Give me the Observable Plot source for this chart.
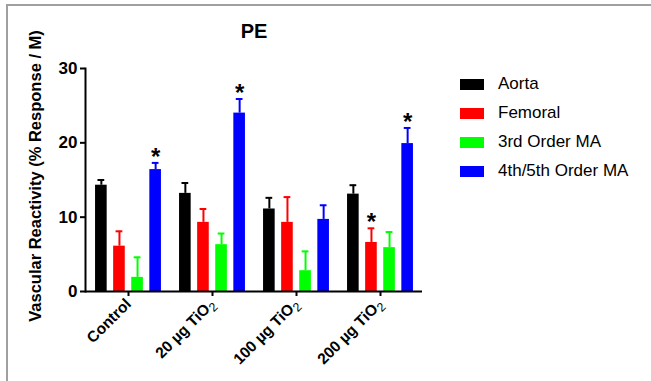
<!DOCTYPE html>
<html>
<head>
<meta charset="utf-8">
<script src="https://cdn.jsdelivr.net/npm/d3@7"></script>
<script src="https://cdn.jsdelivr.net/npm/@observablehq/plot@0.6"></script>
<style>
  body { margin: 0; background: #fff; font-family: "Liberation Sans", Arial, sans-serif; }
  #wrap { position: relative; width: 651px; height: 381px; overflow: hidden; background: #fff; }
  #border { position: absolute; left: 6px; top: 4px; width: 700px; height: 400px;
            border-left: 2px solid #a0a0a0; border-top: 2px solid #a0a0a0; pointer-events: none; }
  #title { position: absolute; left: 154px; width: 200px; top: 21px; text-align: center;
           font-weight: bold; font-size: 20px; line-height: 20px; color: #000; }
  #ylabel { position: absolute; left: 35px; top: 176px; transform: translate(-50%, -50%) rotate(-90deg);
            white-space: nowrap; font-weight: bold; font-size: 16.5px; color: #000; }
  .lg { position: absolute; left: 460px; height: 20px; display: flex; align-items: center;
        font-size: 17px; color: #000; white-space: nowrap; }
  .sw { width: 24px; height: 11px; margin-right: 14px; }
  #chart { position: absolute; left: 0; top: 0; }
</style>
</head>
<body>
<div id="wrap">
  <div id="chart"></div>
  <div id="title">PE</div>
  <div id="ylabel">Vascular Reactivity (% Response / M)</div>
  <div id="legend"></div>
  <div id="border"></div>
</div>
<script>
// ---- data ----
const groups = ["Control", "20 µg TiO₂", "100 µg TiO₂", "200 µg TiO₂"];
const series = ["Aorta", "Femoral", "3rd Order MA", "4th/5th Order MA"];
const colors = ["#000000", "#ff0000", "#00ff00", "#0000ff"];
const aorta      = [14.3, 13.2, 11.1, 13.1];
const aortaErr   = [0.7, 1.4, 1.5, 1.2];
const femoral    = [6.1, 9.3, 9.3, 6.6];
const femoralErr = [2.0, 1.8, 3.4, 1.9];
const ma3        = [1.9, 6.3, 2.8, 5.9];
const ma3Err     = [2.7, 1.5, 2.6, 2.1];
const ma45       = [16.4, 24.0, 9.7, 19.9];
const ma45Err    = [0.9, 1.9, 1.9, 2.1];
const significant = [
  ["Control", "4th/5th Order MA"],
  ["20 µg TiO₂", "4th/5th Order MA"],
  ["200 µg TiO₂", "Femoral"],
  ["200 µg TiO₂", "4th/5th Order MA"]
];
const yTicks = [0, 10, 20, 30];
const yLabel = "Vascular Reactivity (% Response / M)";
const title = "PE";

// ---- table ----
const values = [aorta, femoral, ma3, ma45];
const errors = [aortaErr, femoralErr, ma3Err, ma45Err];
const rows = [];
series.forEach((s, si) => groups.forEach((g, gi) => {
  rows.push({group: g, series: s, value: values[si][gi], err: errors[si][gi],
             star: significant.some(([a, b]) => a === g && b === s)});
}));

// ---- layout ----
const W = 651, H = 381;
const mL = 85, mR = 229, mT = 68, mB = 90;
const bw = (W - mL - mR) / groups.length;
const inner = d3.scaleBand(series, [-bw / 2, bw / 2]).paddingInner(0.344).paddingOuter(0.5);
const off = s => inner(s) + inner.bandwidth() / 2;
const barInset = (bw - inner.bandwidth()) / 2;
const capInset = (bw - 7) / 2;

const marks = [];
series.forEach(s => {
  const d = rows.filter(r => r.series === s);
  marks.push(Plot.barY(d, {x: "group", y: "value", fill: "series",
    insetLeft: barInset, insetRight: barInset, dx: off(s)}));
  marks.push(Plot.ruleX(d, {x: "group", y1: "value", y2: r => r.value + r.err,
    stroke: "series", strokeWidth: 2, dx: off(s)}));
  marks.push(Plot.tickY(d, {x: "group", y: r => r.value + r.err,
    stroke: "series", strokeWidth: 2, insetLeft: capInset, insetRight: capInset, dx: off(s)}));
  marks.push(Plot.text(d.filter(r => r.star), {x: "group", y: r => r.value + r.err,
    text: () => "*", fontSize: 24, fontWeight: "bold", fill: "#000", dx: off(s), dy: -6}));
});
marks.push(Plot.ruleY([0], {stroke: "#000", strokeWidth: 2}));
marks.push(Plot.frame({anchor: "left", stroke: "#000", strokeWidth: 2}));
marks.push(Plot.axisY({ticks: yTicks, tickSize: 5, tickPadding: 3, fontSize: 17, fontWeight: "bold",
  strokeWidth: 2, label: null}));
marks.push(Plot.axisX({tickSize: 5, tickPadding: 5, tickRotate: -45, fontSize: 15.5, fontWeight: "bold",
  strokeWidth: 2, label: null}));

const chart = Plot.plot({
  width: W, height: H,
  marginLeft: mL, marginRight: mR, marginTop: mT, marginBottom: mB,
  style: {fontFamily: "'Liberation Sans', Arial, sans-serif", color: "#000", background: "transparent"},
  x: {domain: groups, padding: 0},
  y: {domain: [0, 30]},
  color: {domain: series, range: colors},
  marks
});
document.getElementById("chart").appendChild(chart);

// render the subscript "2" of TiO2 as a lowered, smaller real-text tspan
d3.select(chart).selectAll("text").each(function () {
  const t = this.textContent;
  if (!t.includes("₂")) return;
  const el = d3.select(this);
  const [before, after] = t.split("₂");
  el.text(null);
  el.append("tspan").text(before);
  el.append("tspan").attr("font-size", "0.8em").attr("font-weight", "normal")
    .attr("dy", "0.3em").text("2");
  if (after) el.append("tspan").attr("dy", "-0.3em").text(after);
});

// ---- title / labels / legend ----
document.getElementById("title").textContent = title;
document.getElementById("ylabel").textContent = yLabel;
const centers = [84, 113, 142, 171];
const legend = document.getElementById("legend");
series.forEach((s, i) => {
  const row = document.createElement("div");
  row.className = "lg";
  row.style.top = (centers[i] - 10) + "px";
  const sw = document.createElement("div");
  sw.className = "sw";
  sw.style.background = colors[i];
  const t = document.createElement("span");
  t.textContent = s;
  row.appendChild(sw);
  row.appendChild(t);
  legend.appendChild(row);
});
</script>
</body>
</html>
